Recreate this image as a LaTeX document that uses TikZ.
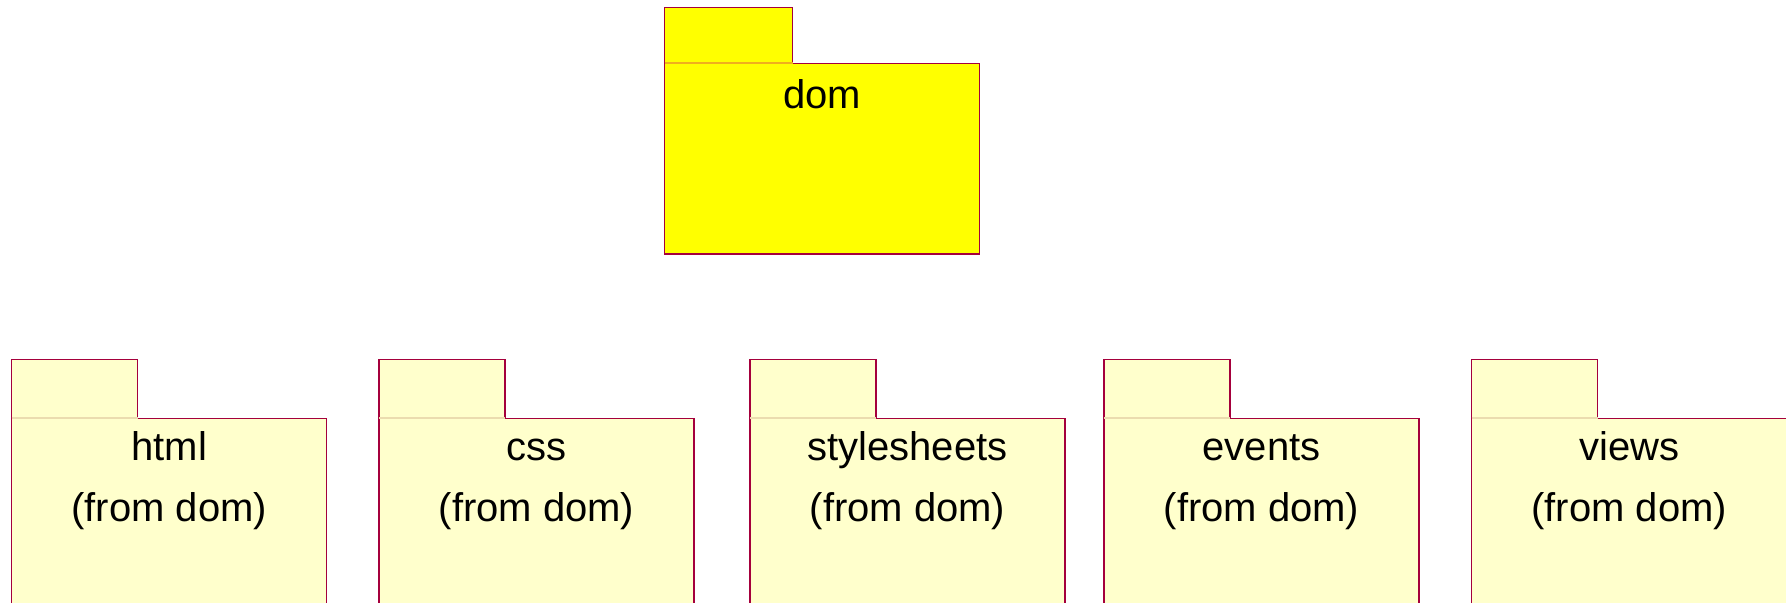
\documentclass[tikz,border=0pt]{standalone}
\usepackage{fontspec}
\setmainfont{Liberation Sans}
\usetikzlibrary{positioning}
\definecolor{pkg_border}{RGB}{165,0,60}
\definecolor{dom_fill}{RGB}{255,255,0}
\definecolor{sub_fill}{RGB}{255,255,204}
\definecolor{dom_seam}{RGB}{240,175,30}
\definecolor{sub_seam}{RGB}{235,220,175}

\begin{document}
\begin{tikzpicture}[x=0.5pt,y=-0.5pt,line width=0.7pt]
    \tikzstyle{body}=[draw=pkg_border, rectangle, inner sep=0pt, outer sep=0pt, minimum width=157.5pt, minimum height=120pt, anchor=north west, fill=sub_fill]
    \tikzstyle{tab}=[rectangle, inner sep=0pt, outer sep=0pt, minimum width=63pt, minimum height=29.5pt, fill=sub_fill]
    \tikzstyle{title}=[align=center, anchor=base, inner sep=0pt, text=black, font=\fontsize{20}{30.5}\selectfont]

    \clip (0,0) rectangle (1786,603);

    % parent package
    \node[body, fill=dom_fill, minimum height=95.3pt] (dom) at (664.7,63.3) {};
    \node[tab, fill=dom_fill, minimum width=64pt, minimum height=28pt, above right=0pt of dom.north west] (domtab) {};
    \node[title] (domname) at ([yshift=-22.5pt]dom.north) {dom};

    % sub packages
    \node[body] (html)  at (11.7,418.3)   {};
    \node[body] (css)   at (379,418.3)    {};
    \node[body] (sheets) at (750,418.3)   {};
    \node[body] (events) at (1104,418.3)  {};
    \node[body] (views) at (1471.7,418.3) {};

    \node[tab, above right=0pt of html.north west]   (htmltab)   {};
    \node[tab, above right=0pt of css.north west]    (csstab)    {};
    \node[tab, above right=0pt of sheets.north west] (sheetstab) {};
    \node[tab, above right=0pt of events.north west] (eventstab) {};
    \node[tab, above right=0pt of views.north west]  (viewstab)  {};

    % base anchor sits on the last line
    \node[title] (htmlname)   at ([yshift=-51.35pt]html.north)   {html\\(from dom)};
    \node[title] (cssname)    at ([yshift=-51.35pt]css.north)    {css\\(from dom)};
    \node[title] (sheetsname) at ([yshift=-51.35pt]sheets.north) {stylesheets\\(from dom)};
    \node[title] (eventsname) at ([yshift=-51.35pt]events.north) {events\\(from dom)};
    \node[title] (viewsname)  at ([yshift=-51.35pt]views.north)  {views\\(from dom)};

    % tab outlines
    \foreach \t/\s in {domtab/dom_seam, htmltab/sub_seam, csstab/sub_seam, sheetstab/sub_seam, eventstab/sub_seam, viewstab/sub_seam} {
      \draw[pkg_border] (\t.south west) |- (\t.north east) -- (\t.south east);
      \draw[\s, line width=0.8pt] (\t.south west) -- (\t.south east);
    }
\end{tikzpicture}
\end{document}
